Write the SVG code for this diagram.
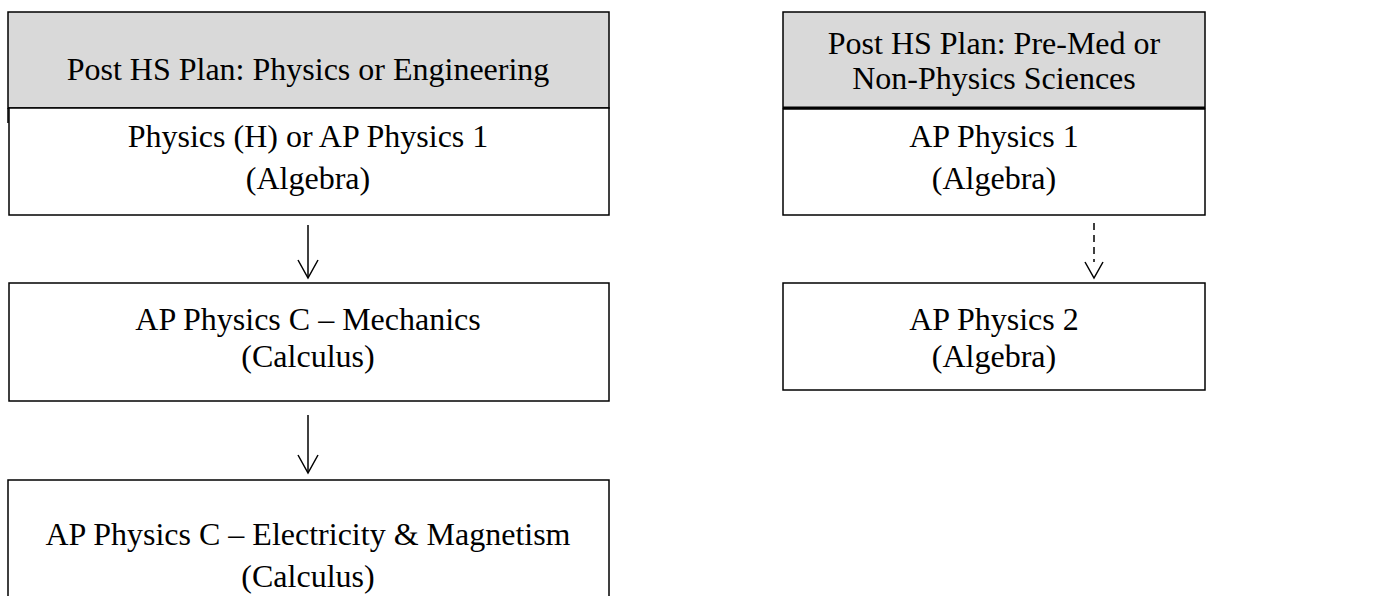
<svg xmlns="http://www.w3.org/2000/svg" width="1380" height="596" viewBox="0 0 1380 596">
<style>
.box{fill:#ffffff;stroke:#000000;stroke-width:1.5}
.hdr{fill:#d9d9d9;stroke:#000000;stroke-width:1.5}
.t{font-family:"Liberation Serif","Times New Roman",serif;font-size:32px;fill:#000000;text-anchor:middle}
.c{fill:none;stroke:#000000;stroke-width:1.5}
</style>
<rect x="0" y="0" width="1380" height="596" fill="#ffffff"/>
<g id="hdr-left">
<rect class="hdr" x="8" y="12" width="601" height="96"/>
<line class="c" x1="8" y1="108" x2="8" y2="123"/>
<text class="t" x="308" y="80">Post HS Plan: Physics or Engineering</text>
</g>
<g id="left-1">
<rect class="box" x="9" y="108" width="600" height="107"/>
<text class="t" x="308" y="147">Physics (H) or AP Physics 1</text>
<text class="t" x="308" y="189">(Algebra)</text>
</g>
<g id="left-2">
<rect class="box" x="9" y="283" width="600" height="118"/>
<text class="t" x="308" y="330">AP Physics C – Mechanics</text>
<text class="t" x="308" y="367">(Calculus)</text>
</g>
<g id="left-3">
<rect class="box" x="8" y="480" width="601" height="130"/>
<text class="t" x="308" y="545">AP Physics C – Electricity &amp; Magnetism</text>
<text class="t" x="308" y="587">(Calculus)</text>
</g>
<g id="hdr-right">
<rect class="hdr" x="783" y="12" width="422" height="96"/>
<line x1="783" y1="108" x2="1205" y2="108" stroke="#000000" stroke-width="3"/>
<text class="t" x="994" y="54">Post HS Plan: Pre-Med or</text>
<text class="t" x="994" y="89">Non-Physics Sciences</text>
</g>
<g id="right-1">
<rect class="box" x="783" y="109" width="422" height="106"/>
<text class="t" x="994" y="147">AP Physics 1</text>
<text class="t" x="994" y="189">(Algebra)</text>
</g>
<g id="right-2">
<rect class="box" x="783" y="283" width="422" height="107"/>
<text class="t" x="994" y="330">AP Physics 2</text>
<text class="t" x="994" y="367">(Algebra)</text>
</g>
<g id="connectors">
<line class="c" x1="308" y1="225" x2="308" y2="277"/>
<polyline class="c" points="298,260 308,278 318,260"/>
<line class="c" x1="308" y1="415" x2="308" y2="472"/>
<polyline class="c" points="298,455 308,473 318,455"/>
<line class="c" x1="1094" y1="223" x2="1094" y2="262" stroke-dasharray="7,5"/>
<polyline class="c" points="1085,262 1094,278 1103,262"/>
</g>
</svg>
